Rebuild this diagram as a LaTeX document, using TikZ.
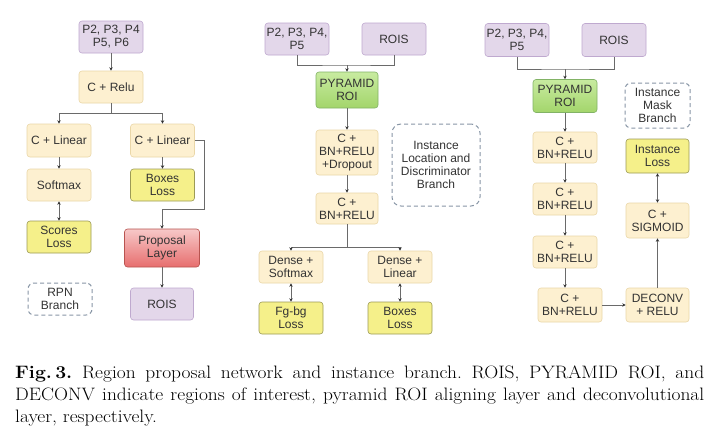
\documentclass[tikz,border=0pt]{standalone}
\usepackage{fontspec}
\newfontfamily\arialfam{Liberation Sans}
\usetikzlibrary{arrows.meta}
\hyphenpenalty=10000
\exhyphenpenalty=10000
\definecolor{pfill}{HTML}{E3D7EA}
\definecolor{pdraw}{HTML}{BFA9CF}
\definecolor{bfill}{HTML}{FDF0D0}
\definecolor{bdraw}{HTML}{EAD7A8}
\definecolor{yfill}{HTML}{F5F08A}
\definecolor{ydraw}{HTML}{9C9A55}
\definecolor{gtop}{HTML}{C8EBA0}
\definecolor{gbot}{HTML}{A3D56B}
\definecolor{gdraw}{HTML}{82B366}
\definecolor{rtop}{HTML}{F7C8C8}
\definecolor{rbot}{HTML}{E76E6E}
\definecolor{rdraw}{HTML}{B85450}
\definecolor{dashc}{HTML}{8896A6}
\definecolor{txt}{HTML}{333333}
\definecolor{linec}{HTML}{6A6A6A}
\newcommand\boxfont{\arialfam\fontsize{12}{13}\selectfont}
\tikzset{
  blk/.style={rounded corners=3pt, line width=0.6pt, align=center, inner sep=1pt,
     minimum width=64pt, minimum height=32pt, font=\boxfont, text=txt},
  purp/.style={blk, fill=pfill, draw=pdraw},
  beig/.style={blk, fill=bfill, draw=bdraw},
  yell/.style={blk, fill=yfill, draw=ydraw},
  gree/.style={blk, top color=gtop, bottom color=gbot, draw=gdraw},
  redb/.style={blk, top color=rtop, bottom color=rbot, draw=rdraw},
  dbox/.style={blk, draw=dashc, line width=1pt, dash pattern=on 4pt off 3pt, rounded corners=6pt},
  conn/.style={draw=linec, line width=0.8pt},
  arr/.style={conn, -{Stealth[length=3.5pt,width=3.5pt,black!80]}},
  darr/.style={conn, {Stealth[length=3.5pt,width=3.5pt,black!80]}-{Stealth[length=3.5pt,width=3.5pt,black!80]}},
}
\begin{document}
\begin{tikzpicture}[x=1pt,y=-1pt]
\useasboundingbox[fill=white] (0,0) rectangle (716,432);
% ---------- left panel ----------
\node[purp] (p1) at (111,37) {P2, P3, P4\\P5, P6};
\node[beig] (cr) at (111,87) {C + Relu};
\node[beig, minimum height=33pt] (cl1) at (59,140.5) {C + Linear};
\node[beig, minimum height=33pt] (cl2) at (162.5,140.5) {C + Linear};
\node[beig] (sm) at (59,185) {Softmax};
\node[yell] (bl1) at (162.5,185) {Boxes\\Loss};
\node[yell] (sl) at (59,237) {Scores\\Loss};
\node[redb, minimum width=75pt, minimum height=38pt] (pl) at (162,248) {Proposal\\Layer};
\node[purp, minimum width=63pt] (ro1) at (162,304) {ROIS};
\node[dbox] (rpn) at (60,299) {RPN\\Branch};
\coordinate (j1) at (111,113);
\coordinate (k1) at (204,209);
\draw[arr] (p1) -- (cr);
\draw[conn] (cr.south) -- (j1);
\draw[arr] (j1) -| (cl1.north);
\draw[arr] (j1) -| (cl2.north);
\draw[arr] (cl1) -- (sm);
\draw[darr] (sm) -- (sl);
\draw[arr] (cl2) -- (bl1);
\draw[arr] (cl2.east) -| (k1) -| (pl.north);
\draw[arr] (pl) -- (ro1);
% ---------- middle panel ----------
\node[purp] (p2) at (297,39) {P2, P3, P4,\\P5};
\node[purp] (ro2) at (394,39) {ROIS};
\node[gree, minimum width=62pt, minimum height=36pt] (py1) at (347,90) {PYRAMID\\ROI};
\node[beig, minimum width=62pt, minimum height=45pt] (cbd) at (347,152.5) {C +\\BN+RELU\\+Dropout};
\node[beig, minimum width=62pt, minimum height=31pt] (cb1) at (347,208.5) {C +\\BN+RELU};
\node[beig] (ds) at (291,267) {Dense +\\Softmax};
\node[beig] (dl) at (400,267) {Dense +\\Linear};
\node[yell] (fg) at (291,318) {Fg-bg\\Loss};
\node[yell] (bl2) at (400,318) {Boxes\\Loss};
\node[dbox, minimum width=88pt, minimum height=82pt, rounded corners=9pt] (ild) at (436,165) {Instance\\Location and\\Discriminator\\Branch};
\coordinate (j2) at (347,65);
\coordinate (j3) at (347,247);
\draw[conn] (p2.south) |- (j2) -| (ro2.south);
\draw[arr] (j2) -- (py1.north);
\draw[arr] (py1) -- (cbd);
\draw[arr] (cbd) -- (cb1);
\draw[conn] (cb1.south) -- (j3);
\draw[arr] (j3) -| (ds.north);
\draw[arr] (j3) -| (dl.north);
\draw[darr] (ds) -- (fg);
\draw[darr] (dl) -- (bl2);
% ---------- right panel ----------
\node[purp, minimum height=33pt] (p3) at (517,40) {P2, P3, P4,\\P5};
\node[purp, minimum height=33pt] (ro3) at (614,40) {ROIS};
\node[gree, minimum height=33pt] (py2) at (565,96) {PYRAMID\\ROI};
\node[beig, minimum height=31pt] (c1) at (565,147.5) {C +\\BN+RELU};
\node[beig] (c2) at (565,199) {C +\\BN+RELU};
\node[beig] (c3) at (565,252) {C +\\BN+RELU};
\node[beig, minimum height=34pt] (c4) at (570,305) {C +\\BN+RELU};
\node[beig, minimum width=63pt, minimum height=34pt] (dc) at (657.5,305) {DECONV\\+ RELU};
\node[beig, minimum width=63pt, minimum height=35pt] (sg) at (657.5,220.5) {C +\\SIGMOID};
\node[yell, minimum width=63pt, minimum height=34pt] (il) at (657.5,156) {Instance\\Loss};
\node[dbox, minimum width=65pt, minimum height=45pt] (imb) at (657.5,105.5) {Instance\\Mask\\Branch};
\coordinate (j4) at (565,69);
\draw[conn] (p3.south) |- (j4) -| (ro3.south);
\draw[arr] (j4) -- (py2.north);
\draw[arr] (py2) -- (c1);
\draw[arr] (c1) -- (c2);
\draw[arr] (c2) -- (c3);
\draw[arr] (c3.south) -- (c3.south |- c4.north);
\draw[arr] (c4) -- (dc);
\draw[arr] (dc) -- (sg);
\draw[darr] (sg) -- (il);
% ---------- caption ----------
\node[anchor=north west, text width=638pt, align=justify, inner sep=0pt,
      xscale=1.08, transform shape,
      font=\fontsize{18}{22}\selectfont] (cap) at (15,366)
  {\frenchspacing\textbf{Fig.\,3.} Region proposal network and instance branch. ROIS, PYRAMID ROI, and\linebreak DECONV indicate regions of interest, pyramid ROI aligning layer and deconvolutional\linebreak layer, respectively.};
\end{tikzpicture}
\end{document}
